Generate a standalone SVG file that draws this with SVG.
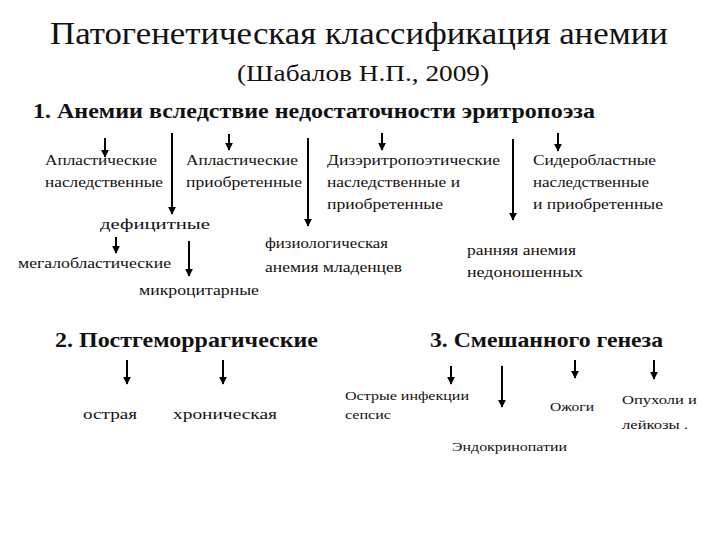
<svg xmlns="http://www.w3.org/2000/svg" width="720" height="540" viewBox="0 0 720 540" font-family="'Liberation Serif', 'DejaVu Serif', 'Times New Roman', serif">
<style>
text{font-family:'Liberation Serif','DejaVu Serif','Times New Roman',serif;fill:#111}
.t{font-size:31px}
.st{font-size:23px}
.h{font-size:21px;font-weight:bold}
.n{font-size:15px}
.s{font-size:13px}
.a{stroke:#000;stroke-width:2;fill:none;marker-end:url(#ah)}
</style>
<defs>
<marker id="ah" viewBox="0 0 10 10" refX="9" refY="5" markerWidth="4" markerHeight="4" orient="auto" markerUnits="strokeWidth">
<path d="M0,0 L10,5 L0,10 z" fill="#000"/>
</marker>
</defs>
<rect width="720" height="540" fill="#fff"/>
<g id="title">
<text class="t" x="50" y="44" textLength="618" lengthAdjust="spacingAndGlyphs">Патогенетическая классификация анемии</text>
<text class="st" x="237" y="81" textLength="252" lengthAdjust="spacingAndGlyphs">(Шабалов Н.П., 2009)</text>
</g>
<g id="g1">
<text class="h" x="33" y="118" textLength="562" lengthAdjust="spacingAndGlyphs">1.  Анемии вследствие недостаточности эритропоэза</text>
</g>
<g id="n-aplast-nasl">
<text class="n" x="45" y="165" textLength="112" lengthAdjust="spacingAndGlyphs">Апластические</text>
<text class="n" x="45" y="187" textLength="118" lengthAdjust="spacingAndGlyphs">наследственные</text>
</g>
<g id="n-aplast-priobr">
<text class="n" x="186" y="165" textLength="112" lengthAdjust="spacingAndGlyphs">Апластические</text>
<text class="n" x="186" y="187" textLength="116" lengthAdjust="spacingAndGlyphs">приобретенные</text>
</g>
<g id="n-dizer">
<text class="n" x="327" y="165" textLength="173" lengthAdjust="spacingAndGlyphs">Дизэритропоэтические</text>
<text class="n" x="327" y="187" textLength="133" lengthAdjust="spacingAndGlyphs">наследственные и</text>
<text class="n" x="327" y="209" textLength="116" lengthAdjust="spacingAndGlyphs">приобретенные</text>
</g>
<g id="n-sider">
<text class="n" x="533" y="165" textLength="123" lengthAdjust="spacingAndGlyphs">Сидеробластные</text>
<text class="n" x="533" y="187" textLength="116" lengthAdjust="spacingAndGlyphs">наследственные</text>
<text class="n" x="533" y="209" textLength="130" lengthAdjust="spacingAndGlyphs">и приобретенные</text>
</g>
<g id="n-defic">
<text class="n" x="100" y="229" textLength="110" lengthAdjust="spacingAndGlyphs">дефицитные</text>
</g>
<g id="n-fiz">
<text class="n" x="265" y="248" textLength="123" lengthAdjust="spacingAndGlyphs">физиологическая</text>
<text class="n" x="265" y="272" textLength="137" lengthAdjust="spacingAndGlyphs">анемия младенцев</text>
</g>
<g id="n-megal">
<text class="n" x="18" y="268" textLength="153" lengthAdjust="spacingAndGlyphs">мегалобластические</text>
</g>
<g id="n-rannyaya">
<text class="n" x="467" y="255" textLength="109" lengthAdjust="spacingAndGlyphs">ранняя анемия</text>
<text class="n" x="467" y="277" textLength="116" lengthAdjust="spacingAndGlyphs">недоношенных</text>
</g>
<g id="n-mikro">
<text class="n" x="139" y="295" textLength="120" lengthAdjust="spacingAndGlyphs">микроцитарные</text>
</g>
<g id="g2">
<text class="h" x="55" y="347" textLength="263" lengthAdjust="spacingAndGlyphs">2. Постгеморрагические</text>
</g>
<g id="g3">
<text class="h" x="430" y="347" textLength="233" lengthAdjust="spacingAndGlyphs">3. Смешанного генеза</text>
</g>
<g id="n-ostraya">
<text class="n" x="83" y="419" font-size="16" textLength="54" lengthAdjust="spacingAndGlyphs">острая</text>
</g>
<g id="n-hron">
<text class="n" x="173" y="419" font-size="16" textLength="104" lengthAdjust="spacingAndGlyphs">хроническая</text>
</g>
<g id="n-infek">
<text class="s" x="345" y="400" textLength="124" lengthAdjust="spacingAndGlyphs">Острые инфекции</text>
<text class="s" x="345" y="419" textLength="46" lengthAdjust="spacingAndGlyphs">сепсис</text>
</g>
<g id="n-ozhogi">
<text class="s" x="550" y="411" textLength="44" lengthAdjust="spacingAndGlyphs">Ожоги</text>
</g>
<g id="n-opuh">
<text class="s" x="622" y="404" textLength="75" lengthAdjust="spacingAndGlyphs">Опухоли и</text>
<text class="s" x="622" y="429" textLength="66" lengthAdjust="spacingAndGlyphs">лейкозы .</text>
</g>
<g id="n-endo">
<text class="s" x="452" y="451" textLength="115" lengthAdjust="spacingAndGlyphs">Эндокринопатии</text>
</g>
<g id="connectors">
<path class="a" d="M105,138 V157"/>
<path class="a" d="M172,133 V214"/>
<path class="a" d="M229,134 V150" stroke-width="1.5"/>
<path class="a" d="M308,138 V226"/>
<path class="a" d="M116,237 V253"/>
<path class="a" d="M189,241 V276"/>
<path class="a" d="M382,133 V150" stroke-width="1.5"/>
<path class="a" d="M513,139 V220"/>
<path class="a" d="M558,133 V151" stroke-width="1.5"/>
<path class="a" d="M127,360 V384" stroke-width="1.5"/>
<path class="a" d="M223,360 V384"/>
<path class="a" d="M451,366 V384"/>
<path class="a" d="M502,366 V407"/>
<path class="a" d="M575,360 V378" stroke-width="1.5"/>
<path class="a" d="M654,360 V379"/>
</g>
</svg>
